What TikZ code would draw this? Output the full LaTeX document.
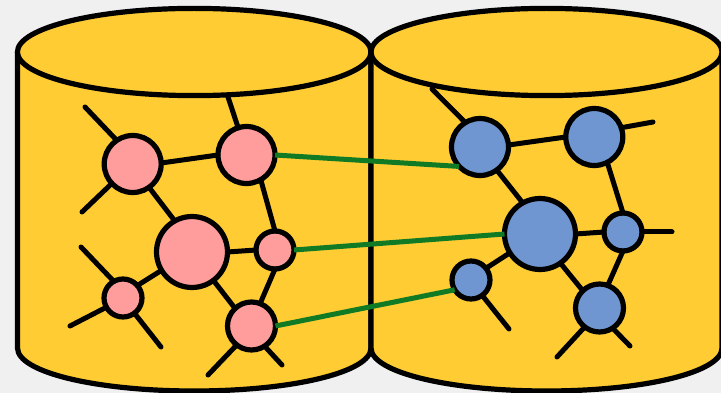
\documentclass[tikz,border=0pt]{standalone}
\definecolor{bgc}{HTML}{F0F0F0}
\definecolor{drum}{HTML}{FFCC33}
\definecolor{pinkc}{HTML}{FF9C9C}
\definecolor{bluec}{HTML}{7096D1}
\definecolor{linkc}{HTML}{107A24}
\tikzset{
  outline/.style={draw=black,line width=5.2pt,line join=round},
  wire/.style={draw=black,line width=5pt,line cap=round},
  link/.style={draw=linkc,line width=5pt},
  peer/.style={circle,draw=black,line width=5.2pt,inner sep=0pt,outer sep=0pt,minimum size=#1},
  pinkpeer/.style={peer=#1,fill=pinkc},
  bluepeer/.style={peer=#1,fill=bluec}
}
\begin{document}
\begin{tikzpicture}[x=1pt,y=-1pt]
\useasboundingbox (0,0) rectangle (721,393);
\clip (0,0) rectangle (721,393);
\fill[bgc] (0,0) rectangle (721,393);
% left cylinder
\path[outline,fill=drum] (17.5,52) -- (17.5,348)
  .. controls (17.5,372.3) and (96.4,391) .. (194.2,391)
  .. controls (292,391) and (371,372.3) .. (371,348) -- (371,52) -- cycle;
\path[outline,fill=drum] (194.2,52) ellipse [x radius=176.8pt,y radius=43.6pt];
% right cylinder
\path[outline,fill=drum] (371,52) -- (371,348)
  .. controls (371,372.3) and (449,391) .. (546.5,391)
  .. controls (644,391) and (722,372.3) .. (722,348) -- (722,52) -- cycle;
\path[outline,fill=drum] (546.5,52) ellipse [x radius=175.5pt,y radius=43.6pt];
% stub ends
\coordinate (a1) at (85,107);
\coordinate (a2) at (82,212);
\coordinate (b1) at (228,97);
\coordinate (e1) at (81,247);
\coordinate (e2) at (70,326);
\coordinate (e3) at (161,347);
\coordinate (f1) at (208,375);
\coordinate (f2) at (282,365);
\coordinate (g1) at (432,89);
\coordinate (h1) at (653,122);
\coordinate (j1) at (672,232);
\coordinate (k1) at (509,329);
\coordinate (l1) at (557,357);
\coordinate (l2) at (630,346);
% left peers
\node[pinkpeer=57pt] (a) at (132.7,164) {};
\node[pinkpeer=57pt] (b) at (246.5,155) {};
\node[pinkpeer=71pt] (c) at (192,252) {};
\node[pinkpeer=38pt] (d) at (275,250) {};
\node[pinkpeer=38pt] (e) at (123,298) {};
\node[pinkpeer=48pt] (f) at (251.5,326) {};
% right peers
\node[bluepeer=57pt] (g) at (480,147) {};
\node[bluepeer=57pt] (h) at (594.3,137) {};
\node[bluepeer=71pt] (i) at (540,234) {};
\node[bluepeer=38pt] (j) at (623,232) {};
\node[bluepeer=38pt] (k) at (471,280) {};
\node[bluepeer=48pt] (l) at (599.5,308) {};
% left wires
\draw[wire] (a.124) -- (a1);
\draw[wire] (a.223) -- (a2);
\draw[wire] (b.107) -- (b1);
\draw[wire] (e.119) -- (e1);
\draw[wire] (e.209) -- (e2);
\draw[wire] (e.-53) -- (e3);
\draw[wire] (f.232) -- (f1);
\draw[wire] (f.-57) -- (f2);
\draw[wire] (a.2) -- (b.180);
\draw[wire] (a.-55) -- (c.119);
\draw[wire] (b.-60) -- (d.90);
\draw[wire] (c.0) -- (d.180);
\draw[wire] (c.211) -- (e.41);
\draw[wire] (c.-53) -- (f.133);
\draw[wire] (d.-90) -- (f.69);
% right wires
\draw[wire] (g.121) -- (g1);
\draw[wire] (h.19) -- (h1);
\draw[wire] (j.0) -- (j1);
\draw[wire] (k.-54) -- (k1);
\draw[wire] (l.232) -- (l1);
\draw[wire] (l.-57) -- (l2);
\draw[wire] (g.4) -- (h.180);
\draw[wire] (g.-54) -- (i.119);
\draw[wire] (h.-63) -- (j.90);
\draw[wire] (i.0) -- (j.180);
\draw[wire] (i.212) -- (k.38);
\draw[wire] (i.-55) -- (l.134);
\draw[wire] (j.-90) -- (l.70);
% links
\draw[link] (b.east) -- (g.223);
\draw[link] (d.east) -- (i.west);
\draw[link] (f.east) -- (k.211);
\end{tikzpicture}
\end{document}
